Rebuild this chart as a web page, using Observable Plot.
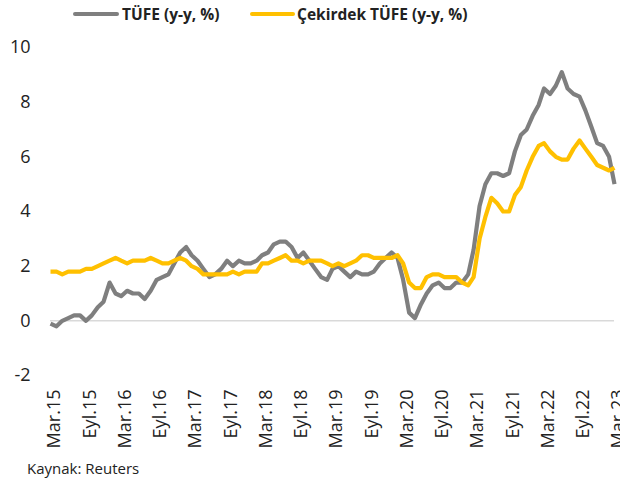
<!DOCTYPE html>
<html><head><meta charset="utf-8">
<script src="https://cdn.jsdelivr.net/npm/d3@7"></script>
<script src="https://cdn.jsdelivr.net/npm/@observablehq/plot@0.6"></script>
<style>
body{margin:0;background:#fff;}
#wrap{width:620px;height:489px;position:relative;overflow:hidden;font-family:"Open Sans",sans-serif;color:#222;background:#fff;}
.sw{position:absolute;height:4px;border-radius:2px;top:12px;}
.lt{position:absolute;top:3px;line-height:22px;font-size:15.5px;font-weight:700;white-space:nowrap;}
#chart{position:absolute;left:0;top:30px;}
#cap{position:absolute;left:27px;top:457px;line-height:22px;font-size:15px;white-space:nowrap;}
</style>
</head><body>
<div id="wrap">
  <div class="sw" style="left:73px;width:46px;background:#7f7f7f"></div>
  <div class="lt" style="left:122px">TÜFE (y-y, %)</div>
  <div class="sw" style="left:250px;width:45px;background:#ffc000"></div>
  <div class="lt" style="left:297px">Çekirdek TÜFE (y-y, %)</div>
  <div id="chart"></div>
  <div id="cap">Kaynak: Reuters</div>
</div>
<script>
// Monthly, Mar 2015 .. Mar 2023
const startMonth = [2015, 2]; // year, zero-based month (March)
const tufe = [
  -0.1, -0.2, 0.0, 0.1, 0.2, 0.2, 0.0, 0.2, 0.5, 0.7,
  1.4, 1.0, 0.9, 1.1, 1.0, 1.0, 0.8, 1.1, 1.5, 1.6, 1.7, 2.1,
  2.5, 2.7, 2.4, 2.2, 1.9, 1.6, 1.7, 1.9, 2.2, 2.0, 2.2, 2.1,
  2.1, 2.2, 2.4, 2.5, 2.8, 2.9, 2.9, 2.7, 2.3, 2.5, 2.2, 1.9,
  1.6, 1.5, 1.9, 2.0, 1.8, 1.6, 1.8, 1.7, 1.7, 1.8, 2.1, 2.3,
  2.5, 2.3, 1.5, 0.3, 0.1, 0.6, 1.0, 1.3, 1.4, 1.2, 1.2, 1.4,
  1.4, 1.7, 2.6, 4.2, 5.0, 5.4, 5.4, 5.3, 5.4, 6.2, 6.8, 7.0,
  7.5, 7.9, 8.5, 8.3, 8.6, 9.1, 8.5, 8.3, 8.2, 7.7, 7.1, 6.5,
  6.4, 6.0, 5.0
];
const cekirdek = [
  1.8, 1.8, 1.7, 1.8, 1.8, 1.8, 1.9, 1.9, 2.0, 2.1,
  2.2, 2.3, 2.2, 2.1, 2.2, 2.2, 2.2, 2.3, 2.2, 2.1, 2.1, 2.2,
  2.3, 2.2, 2.0, 1.9, 1.7, 1.7, 1.7, 1.7, 1.7, 1.8, 1.7, 1.8,
  1.8, 1.8, 2.1, 2.1, 2.2, 2.3, 2.4, 2.2, 2.2, 2.1, 2.2, 2.2,
  2.2, 2.1, 2.0, 2.1, 2.0, 2.1, 2.2, 2.4, 2.4, 2.3, 2.3, 2.3,
  2.3, 2.4, 2.1, 1.4, 1.2, 1.2, 1.6, 1.7, 1.7, 1.6, 1.6, 1.6,
  1.4, 1.3, 1.6, 3.0, 3.8, 4.5, 4.3, 4.0, 4.0, 4.6, 4.9, 5.5,
  6.0, 6.4, 6.5, 6.2, 6.0, 5.9, 5.9, 6.3, 6.6, 6.3, 6.0, 5.7,
  5.6, 5.5, 5.6
];
const xLabels = ["Mar.15","Eyl.15","Mar.16","Eyl.16","Mar.17","Eyl.17","Mar.18","Eyl.18",
  "Mar.19","Eyl.19","Mar.20","Eyl.20","Mar.21","Eyl.21","Mar.22","Eyl.22","Mar.23"];
const yTicks = [-2, 0, 2, 4, 6, 8, 10];

const monthDate = (i) => new Date(Date.UTC(startMonth[0], startMonth[1] + i, 1));
const rows = [];
tufe.forEach((v, i) => rows.push({date: monthDate(i), value: v, series: "TÜFE (y-y, %)"}));
cekirdek.forEach((v, i) => rows.push({date: monthDate(i), value: v, series: "Çekirdek TÜFE (y-y, %)"}));
const tickDates = xLabels.map((l, i) => monthDate(i * 6));
const labelByTime = new Map(tickDates.map((d, i) => [+d, xLabels[i]]));

const chart = Plot.plot({
  width: 620,
  height: 420,
  marginTop: 17,
  marginBottom: 75,
  marginLeft: 50,
  marginRight: 6,
  style: {fontFamily: "Open Sans, sans-serif", fontSize: "18px", color: "#222", background: "white"},
  x: {type: "utc", domain: [monthDate(0), monthDate(tufe.length - 1)]},
  y: {domain: [-2, 10]},
  color: {domain: ["TÜFE (y-y, %)", "Çekirdek TÜFE (y-y, %)"], range: ["#7f7f7f", "#ffc000"]},
  marks: [
    Plot.ruleY([0], {stroke: "#d9d9d9", strokeWidth: 1.5}),
    Plot.axisY(yTicks, {tickSize: 0, tickPadding: 20, label: null, fill: "#222",
      tickFormat: (d) => String(d)}),
    Plot.axisX(tickDates, {tickSize: 0, tickPadding: 14, tickRotate: -90, label: null, dx: 4, fill: "#222",
      tickFormat: (d) => labelByTime.get(+d)}),
    Plot.line(rows, {x: "date", y: "value", z: "series", stroke: "series", strokeWidth: 4.2,
      strokeLinejoin: "round", strokeLinecap: "butt"})
  ]
});
document.getElementById("chart").appendChild(chart);
</script>
</body></html>
